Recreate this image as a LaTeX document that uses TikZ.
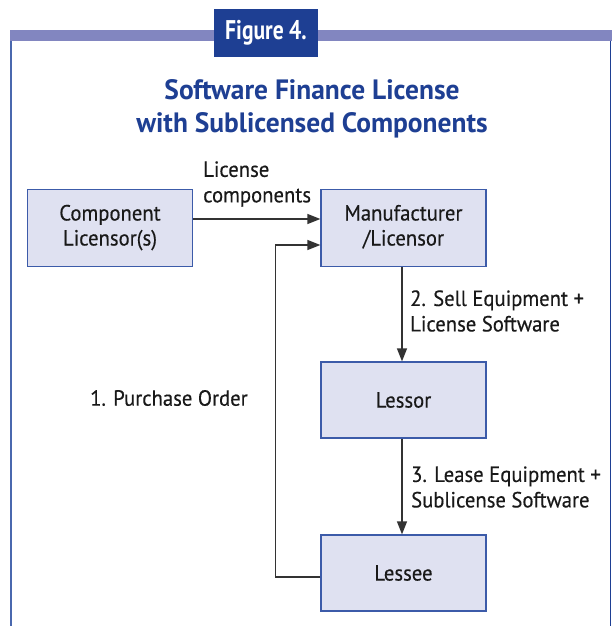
\documentclass[tikz,border=0pt]{standalone}
\usepackage{fontspec}
\setmainfont{PT Sans}
\newfontfamily\titlefont[FakeStretch=0.80]{PT Sans}
\newfontfamily\headfont[FakeStretch=0.98]{PT Sans}
\newfontfamily\bodyfont[FakeStretch=0.94,FakeBold=0.3]{PT Sans}
\usetikzlibrary{arrows.meta,calc}
\definecolor{band}{HTML}{8286C0}
\definecolor{navy}{HTML}{1E3F93}
\definecolor{boxfill}{HTML}{DFE1F1}
\definecolor{boxline}{HTML}{3C5BA9}
\definecolor{frameline}{HTML}{4A68AE}
\definecolor{arrowc}{HTML}{333333}
\tikzset{
  flowbox/.style={draw=boxline, line width=1.2pt, fill=boxfill, minimum width=165pt, minimum height=77pt, inner sep=0pt, align=center, font=\bodyfont\fontsize{22}{25}\selectfont, text=black!90},
  lbl/.style={anchor=west, align=left, inner sep=0pt, font=\bodyfont\fontsize{22}{25.5}\selectfont, text=black!90},
  conn/.style={draw=arrowc, line width=1.3pt, -{Triangle[length=13pt,width=10pt]}}
}
\begin{document}
\begin{tikzpicture}[x=1pt,y=-1pt]
\useasboundingbox (0,0) rectangle (612,626);
\fill[white] (0,0) rectangle (612,626);
% frame
\fill[band] (10,30) rectangle (612,41);
\draw[frameline, line width=1.4pt] (11,41) -- (11,626);
\draw[navy, line width=1.6pt] (610.5,41) -- (610.5,626);
\node[fill=navy, minimum width=104pt, minimum height=48pt, inner sep=0pt, text=white, font=\titlefont\bfseries\fontsize{27}{30}\selectfont] (fig) at (266,33) {Figure 4.};
% title
\node[align=center, inner sep=0pt, text=navy, font=\headfont\bfseries\fontsize{28}{33}\selectfont] (title) at (312,108.5) {Software Finance License\\with Sublicensed Components};
% boxes
\node[flowbox] (comp) at (110,228) {\raisebox{-2pt}{\begin{tabular}{@{}c@{}}Component\\Licensor(s)\end{tabular}}};
\node[flowbox] (mfr) at (403.5,228) {\raisebox{-2pt}{\begin{tabular}{@{}c@{}}Manufacturer\\/Licensor\end{tabular}}};
\node[flowbox, minimum height=76pt] (lessor) at (403.5,400) {\raisebox{-1pt}{Lessor}};
\node[flowbox, minimum height=76pt] (lessee) at (403.5,573) {\raisebox{-1pt}{Lessee}};
% connectors
\draw[conn] ($(comp.east)+(0,-9)$) -- ($(mfr.west)+(0,-9)$);
\draw[conn] ($(lessee.west)+(0,4)$) -- ++(-45,0) |- ($(mfr.west)+(0,17)$);
\draw[conn] ($(mfr.south)+(-1.5,0)$) -- ($(lessor.north)+(-1.5,0)$);
\draw[conn] ($(lessor.south)+(-1.5,0)$) -- ($(lessee.north)+(-1.5,0)$);
% labels
\node[lbl] (l1) at (203,184) {License\\components};
\node[lbl] (l2) at (410,311) {2. Sell Equipment +\\License Software};
\node[lbl] (l3) at (90,398) {1. Purchase Order};
\node[lbl] (l4) at (411,487) {3. Lease Equipment +\\Sublicense Software};
\end{tikzpicture}
\end{document}
